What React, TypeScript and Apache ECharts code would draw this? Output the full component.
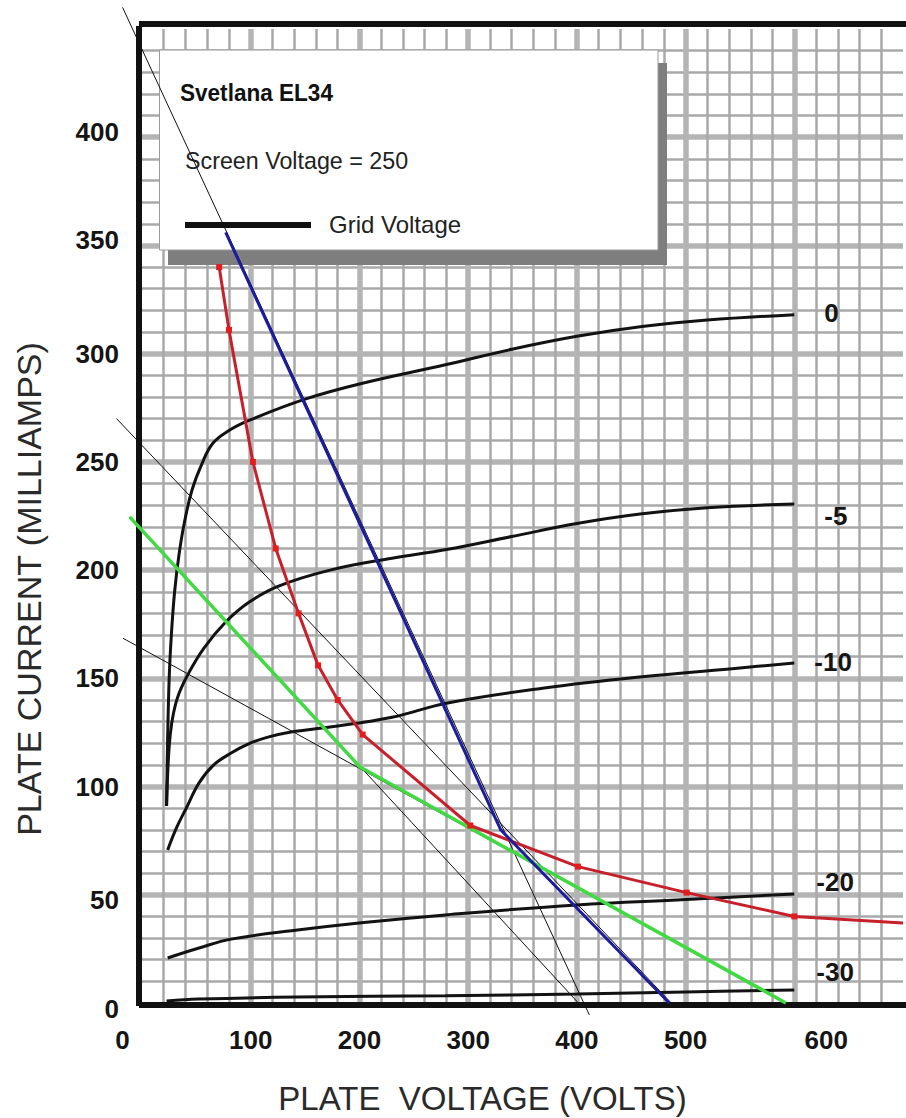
import React, { useEffect, useRef } from 'react';
import * as echarts from 'echarts';

type Pt = [number, number];

const FONT = "Arial, 'Liberation Sans', Helvetica, sans-serif";

// Tick labels shown on the axes
const xTickLabels = [0, 100, 200, 300, 400, 500, 600];
const yTickLabels = [0, 50, 100, 150, 200, 250, 300, 350, 400];

// Grid-voltage curve labels
const gridVoltageLabels = ['0', '-5', '-10', '-20', '-30'];

// Plate characteristic curves [plate volts, plate mA]
const curveGrid0: Pt[] = [
  [22.6, 91], [23.5, 120], [25, 150], [27, 170], [30, 190], [34, 207], [39, 222],
  [46, 237], [55, 249], [65, 258.5], [80, 264.5], [100, 269.5], [150, 279], [200, 286],
  [280, 295], [340, 302], [400, 308], [460, 312.5], [520, 315.5], [600, 318],
];
const curveGrid5: Pt[] = [
  [22.6, 91], [24, 110], [26, 124], [29, 134], [34, 143], [43, 152.5], [57, 164],
  [77, 176], [98, 185], [125, 192.5], [173, 200], [230, 205.5], [280, 209.5], [340, 215.5],
  [400, 221.5], [460, 226], [520, 228.8], [600, 230.6],
];
const curveGrid10: Pt[] = [
  [23.6, 70.7], [31.7, 80.9], [40.8, 90.1], [52.5, 101.7], [66, 110], [82, 115.5],
  [98, 119.7], [115, 122.7], [137, 125.2], [173, 127.5], [230, 132], [280, 138.5],
  [370, 145.5], [460, 150.7], [550, 154.8], [600, 157.1],
];
const curveGrid20: Pt[] = [
  [23.6, 20.8], [52.5, 25.4], [82, 29.5], [143, 33.7], [204, 37.2], [279, 40.7],
  [400, 45.3], [500, 47.8], [600, 50.4],
];
const curveGrid30: Pt[] = [
  [22.6, 0.9], [52, 1.8], [143, 2.8], [279, 3.3], [400, 4.2], [500, 5.1], [600, 6],
];

// 25 W dissipation curve (red, with markers)
const dissipationCurve: Pt[] = [
  [71, 340], [80, 311], [102, 250], [123, 210], [144, 180], [162, 156], [180, 140],
  [203, 124], [302, 82], [401, 63], [501, 51], [600, 40], [700, 37],
];

// Load lines
const blueLoadLine: Pt[] = [[77, 356], [330, 80], [485, 0]];
const greenLoadLine: Pt[] = [[-11, 224.6], [200, 109], [590, 0]];

// Thin black construction lines
const thinLine1: Pt[] = [[-17.5, 460], [410, -5.5]];
const thinLine2: Pt[] = [[-23, 270], [485, 0]];
const thinLine3: Pt[] = [[-11, 224.6], [400, 0]];
const thinLine4: Pt[] = [[-17, 168.5], [590, 0]];

const chartTitle = 'Svetlana EL34';
const screenNote = 'Screen Voltage = 250';
const legendName = 'Grid Voltage';
const xTitle = 'PLATE  VOLTAGE (VOLTS)';
const yTitle = 'PLATE CURRENT (MILLIAMPS)';

export default function App() {
  const ref = useRef<HTMLDivElement>(null);

  useEffect(() => {
    if (!ref.current) return;
    const chart = echarts.init(ref.current, undefined, { renderer: 'svg' });

    const pxPerVolt = 1.1038;
    const gridLeft = 142;
    const overlayMin = -30;

    const gridCurves = [curveGrid0, curveGrid5, curveGrid10, curveGrid20, curveGrid30];
    const endOffsets = [[25, -2], [25, 12], [15, -1], [17, -12], [17, -18]];

    const labelFont = { fontSize: 26, fontWeight: 'bold' as const, fontFamily: FONT, color: '#151515' };

    const thinSeries = [thinLine1, thinLine2, thinLine3, thinLine4].map((d) => ({
      type: 'line',
      xAxisIndex: 2,
      yAxisIndex: 1,
      data: d,
      symbol: 'none',
      clip: false,
      silent: true,
      lineStyle: { color: '#111', width: 1 },
      z: 3,
    }));

    const curveSeries = gridCurves.map((d, i) => ({
      type: 'line',
      data: d,
      symbol: 'none',
      smooth: 0.4,
      clip: false,
      silent: true,
      lineStyle: { color: '#121212', width: 3 },
      z: 4,
      endLabel: {
        show: true,
        formatter: gridVoltageLabels[i],
        distance: 5,
        offset: endOffsets[i],
        ...labelFont,
      },
    }));

    const yShiftRich: Record<number, string> = { 0: 'dn', 50: 'dn', 350: 'up', 400: 'up' };
    const gridLineStyle = { color: '#b4b4b4', width: 5.5 };
    const minorLineStyle = { color: '#a9a9a9', width: 2.5 };
    const frameStyle = { color: '#111', width: 6, cap: 'square' };

    const option: any = {
      animation: false,
      backgroundColor: '#ffffff',
      grid: [
        { left: gridLeft, top: 29, right: -8.7, bottom: 115 },
        { left: gridLeft + overlayMin * pxPerVolt, top: 29, right: -8.7, bottom: 115 },
      ],
      xAxis: [
        {
          type: 'value',
          gridIndex: 0,
          min: 0,
          max: 700,
          interval: 100,
          position: 'bottom',
          offset: 2,
          axisLine: { show: true, onZero: false, lineStyle: frameStyle },
          axisTick: { show: false },
          axisLabel: {
            margin: 22,
            ...labelFont,
            formatter: (v: number) => {
              if (!xTickLabels.includes(v)) return '';
              if (v === 0) return '{l|0}';
              if (v === 600) return '{r|600}';
              return String(v);
            },
            rich: {
              l: { ...labelFont, padding: [0, 39, 0, 0] },
              r: { ...labelFont, padding: [0, 0, 0, 64] },
            },
          },
          splitLine: { show: true, showMinLine: false, showMaxLine: false, lineStyle: gridLineStyle },
          minorTick: { show: false, splitNumber: 5 },
          minorSplitLine: { show: true, lineStyle: minorLineStyle },
        },
        {
          type: 'value',
          gridIndex: 0,
          min: 0,
          max: 700,
          position: 'top',
          offset: 4.8,
          axisLine: { show: true, onZero: false, lineStyle: frameStyle },
          axisTick: { show: false },
          axisLabel: { show: false },
          splitLine: { show: false },
        },
        {
          type: 'value',
          gridIndex: 1,
          min: overlayMin,
          max: 700,
          show: false,
        },
      ],
      yAxis: [
        {
          type: 'value',
          gridIndex: 0,
          min: 0,
          max: 450,
          interval: 50,
          offset: 3,
          axisLine: { show: true, onZero: false, lineStyle: frameStyle },
          axisTick: { show: false },
          axisLabel: {
            margin: 20,
            ...labelFont,
            formatter: (v: number) => {
              if (!yTickLabels.includes(v)) return '';
              const k = yShiftRich[v];
              return k ? `{${k}|${v}}` : String(v);
            },
            rich: {
              dn: { ...labelFont, padding: [11, 0, 0, 0] },
              up: { ...labelFont, padding: [0, 0, 10, 0] },
            },
          },
          splitLine: { show: true, showMinLine: false, showMaxLine: false, lineStyle: gridLineStyle },
          minorTick: { show: false, splitNumber: 5 },
          minorSplitLine: { show: true, lineStyle: minorLineStyle },
        },
        {
          type: 'value',
          gridIndex: 1,
          min: 0,
          max: 450,
          show: false,
        },
      ],
      series: [
        ...thinSeries,
        ...curveSeries,
        {
          type: 'line',
          xAxisIndex: 2,
          yAxisIndex: 1,
          data: greenLoadLine,
          symbol: 'none',
          clip: false,
          silent: true,
          lineStyle: { color: '#42da42', width: 3.5 },
          z: 5,
        },
        {
          type: 'line',
          data: dissipationCurve.map((p, i) =>
            i === dissipationCurve.length - 1 ? { value: p, symbol: 'none' } : p
          ),
          symbol: 'rect',
          symbolSize: 6,
          showAllSymbol: true,
          clip: false,
          silent: true,
          itemStyle: { color: '#e31d1d' },
          lineStyle: { color: '#c8202a', width: 3 },
          z: 6,
        },
        {
          type: 'line',
          data: blueLoadLine,
          symbol: 'none',
          clip: false,
          silent: true,
          lineStyle: { color: '#1c1ca0', width: 3 },
          z: 7,
        },
      ],
      graphic: [
        {
          type: 'rect',
          z: 1,
          silent: true,
          shape: { x: 168, y: 63, width: 499, height: 202 },
          style: { fill: '#7e7e7e' },
        },
        {
          type: 'rect',
          z: 1,
          silent: true,
          shape: { x: 159.5, y: 50, width: 498.5, height: 200 },
          style: { fill: '#ffffff', stroke: '#9a9a9a', lineWidth: 1 },
        },
        {
          type: 'text',
          z: 1,
          x: 180,
          y: 92.5,
          scaleX: 0.94,
          style: {
            text: chartTitle, fontSize: 24, fontWeight: 'bold', fontFamily: FONT, fill: '#111',
            align: 'left', verticalAlign: 'middle', textAlign: 'left', textVerticalAlign: 'middle',
          },
        },
        {
          type: 'text',
          z: 1,
          x: 185,
          y: 161,
          scaleX: 0.97,
          style: {
            text: screenNote, fontSize: 24, fontFamily: FONT, fill: '#222',
            align: 'left', verticalAlign: 'middle', textAlign: 'left', textVerticalAlign: 'middle',
          },
        },
        {
          type: 'line',
          z: 1,
          silent: true,
          shape: { x1: 185, y1: 225, x2: 311, y2: 225 },
          style: { stroke: '#111', lineWidth: 6 },
        },
        {
          type: 'text',
          z: 1,
          x: 329,
          y: 224,
          style: {
            text: legendName, fontSize: 24, fontFamily: FONT, fill: '#222',
            align: 'left', verticalAlign: 'middle', textAlign: 'left', textVerticalAlign: 'middle',
          },
        },
        {
          type: 'text',
          z: 1,
          x: 28.5,
          y: 589,
          rotation: Math.PI / 2,
          style: {
            text: yTitle, fontSize: 34, fontFamily: FONT, fill: '#2a2a2a',
            align: 'center', verticalAlign: 'middle', textAlign: 'center', textVerticalAlign: 'middle',
          },
        },
        {
          type: 'text',
          z: 1,
          x: 482.5,
          y: 1098,
          style: {
            text: xTitle, fontSize: 33, lineHeight: 34, fontFamily: FONT, fill: '#2a2a2a',
            align: 'center', verticalAlign: 'middle', textAlign: 'center', textVerticalAlign: 'middle',
          },
        },
      ],
    };

    chart.setOption(option);
    return () => {
      chart.dispose();
    };
  }, []);

  return (
    <div
      ref={ref}
      style={{ position: 'absolute', left: 0, top: 0, width: 906, height: 1118, background: '#fff' }}
    />
  );
}
